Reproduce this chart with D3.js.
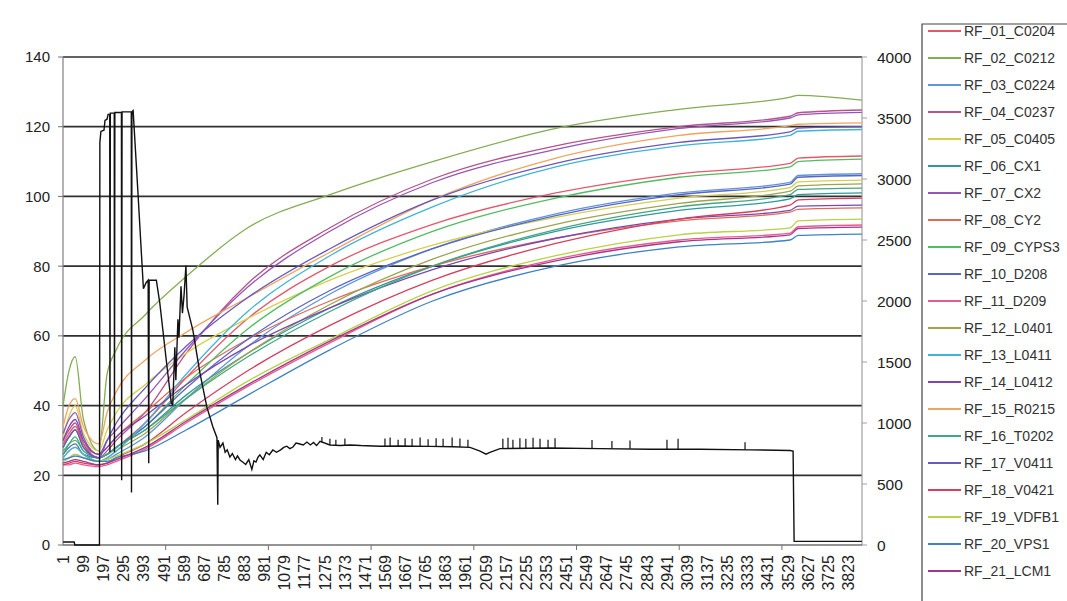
<!DOCTYPE html>
<html><head><meta charset="utf-8">
<script src="https://cdn.jsdelivr.net/npm/d3@7"></script>
<style>
html,body{margin:0;padding:0;background:#fff;}
svg{display:block;font-family:"Liberation Sans",Arial,sans-serif;}
</style></head>
<body>
<svg id="c" width="1067" height="601"></svg>
<script>
// ---------- data ----------
const N_POINTS = 3890;
const X_LABELS = [1,99,197,295,393,491,589,687,785,883,981,1079,1177,1275,1373,1471,1569,1667,1765,1863,1961,2059,2157,2255,2353,2451,2549,2647,2745,2843,2941,3039,3137,3235,3333,3431,3529,3627,3725,3823];
const X_TICKS = [500,1000,1500,2000,2500,3000,3500];
const Y_LEFT_TICKS = [0,20,40,60,80,100,120,140];
const Y_RIGHT_TICKS = [0,500,1000,1500,2000,2500,3000,3500,4000];

const SAMPLE_CATS = [1,30,60,100,175,215,260,400,600,900,1300,1800,2400,3000,3540,3580,3890];

const NAMES = ["RF_01_C0204","RF_02_C0212","RF_03_C0224","RF_04_C0237","RF_05_C0405","RF_06_CX1","RF_07_CX2","RF_08_CY2","RF_09_CYPS3","RF_10_D208","RF_11_D209","RF_12_L0401","RF_13_L0411","RF_14_L0412","RF_15_R0215","RF_16_T0202","RF_17_V0411","RF_18_V0421","RF_19_VDFB1","RF_20_VPS1","RF_21_LCM1"];
const COLORS = ["#e4586c","#84ad52","#5f95dc","#b8528a","#d6cf4e","#2f9a9c","#9656b8","#e06a58","#52bc62","#5a66c0","#ea5a8e","#9ea44e","#40b4d8","#7c48b0","#f0a460","#44a684","#6a58c0","#d6405e","#b6d444","#3f82c2","#a0388f"];

const RF_01 = [29,32,34,29,25,26,28,35,48,65,80,92,101,106.5,109.5,111,111.6];
const RF_02 = [40,50,54,36,27,49,56,66,77,91,100.5,110,119.5,125,128.5,129,127.6];
const RF_03 = [24,25,26,25,24,24.5,26,31,42,57,72,85,95,101,104,106,106.5];
const RF_04 = [30,33,35,29,25,27,30,38,55,75,91,105,114.5,120,123,124,124.8];
const RF_05 = [31,37,40,32,27,33,38,46,55,65,76,86,94,99.5,102.5,104.2,104.7];
const RF_06 = [28,31,33,28,25,26,28,33,43,55,68,80,90,96,99.3,100.5,101];
const RF_07 = [32,36,38,31,26,30,33,42,56,74,90,104,113.5,119.5,122.5,123.4,124.1];
const RF_08 = [29,31,33,29,26,28,31,38,48,59,70,80,88,93,95.5,96.3,96.7];
const RF_09 = [27,29,30,27,25,26,28,34,46,62,77,90,99.5,105.5,108.5,110,110.7];
const RF_10 = [26,28,29,26,25,26,28,34,45,59,73,85,94.5,100.5,103.5,105.5,106];
const RF_11 = [23,23,23.5,23,22.5,23,24,27.5,35,45.5,58,72,82,87.5,89.5,91.3,91.8];
const RF_12 = [25,27,28,26,24,25,27,32,42,55,69,82,92,98,101.5,103,103.6];
const RF_13 = [25,27,28,26,24,25,27,35,49,67,83,97,108.5,114.5,117.5,118.7,119.2];
const RF_14 = [30,34,36,30,26,28,31,37,46,57,68,79,88,93.5,96,97.2,97.5];
const RF_15 = [34,40,42,34,29,38,44,53,61,71,84,99,111,117.5,120.3,120.7,121.1];
const RF_16 = [26,29,31,27,25,26,28,33,42,54,67,80,90.5,97,100.5,102,102.4];
const RF_17 = [28,31,33,28,25,30,35,45,57,71,85,99,109.5,115.5,118.5,119.6,120];
const RF_18 = [23,23.5,24,23.5,23,23.5,25,29,38,50,63,76,86.5,93.5,97.5,99,99.5];
const RF_19 = [24,25,26,25,24,24.5,25.5,29,36,47,59,73,83,89,91,93,93.5];
const RF_20 = [24.5,25,25.5,25,24,24,25,27,33,43,56,70,80,85.5,87.5,88.8,89.2];
const RF_21 = [23.5,24,24.5,24,23,23.5,24.5,28,35.5,46,58.5,72,81.5,87,89,90.8,91.2];
const SERIES = [RF_01,RF_02,RF_03,RF_04,RF_05,RF_06,RF_07,RF_08,RF_09,RF_10,RF_11,RF_12,RF_13,RF_14,RF_15,RF_16,RF_17,RF_18,RF_19,RF_20,RF_21];

// black series on the secondary (right) axis
const BLACK_CAT = [1,55,58,178,180,185,200,205,215,220,228,229,231,250,251,253,285,286,288,333,334,336,342,365,392,405,415,418,420,455,472,505,528,535,545,550,560,565,575,582,590,599,605,633,667,701,730,750,754,756,765,779,790,800,813,825,840,850,862,875,890,905,920,930,940,950,959,975,990,1005,1022,1040,1060,1075,1090,1105,1120,1135,1150,1170,1188,1205,1220,1235,1252,1300,1350,1398,1450,1544,1641,1787,1900,1982,2031,2060,2079,2128,2371,2615,2858,3102,3345,3540,3555,3560,3890];
const BLACK_VAL = [25,25,0,0,3300,3390,3400,3480,3490,3530,3530,760,3540,3540,760,3545,3545,530,3550,3550,430,3550,3560,2900,2100,2150,2170,670,2170,2170,1980,1490,1160,1150,1620,1350,1850,1700,2120,1900,2050,2290,1950,1760,1410,1130,970,880,330,860,800,836,760,780,721,750,700,730,697,680,660,700,620,690,680,720,738,700,760,740,779,760,780,800,810,790,803,835,830,820,844,820,840,815,850,820,815,820,815,810,812,808,805,800,770,745,760,790,795,790,785,785,780,775,770,30,30];
const SPIKE_CAT = [1261,1300,1329,1373,1568,1593,1632,1666,1700,1739,1778,1817,1851,1895,1933,1972,2142,2167,2191,2225,2254,2289,2323,2362,2396,2576,2673,2761,2941,2995,3321];
const SPIKE_BASE = [840,820,818,817,810,810,812,811,810,810,808,808,807,806,804,802,792,792,793,793,794,794,795,795,795,792,790,788,786,786,782];
const SPIKE_TOP = [885,870,862,872,872,882,862,876,870,882,866,876,870,882,872,862,870,880,862,876,870,880,870,862,876,860,852,856,862,870,842];

// ---------- chart ----------
const svg = d3.select("#c");
const L = 63, R = 862, T = 57, B = 545;
const x = d3.scaleLinear().domain([0.5, N_POINTS + 0.5]).range([L, R]);
const yL = d3.scaleLinear().domain([0, 140]).range([B, T]);
const yR = d3.scaleLinear().domain([0, 4000]).range([B, T]);

// gridlines
svg.append("g").selectAll("line").data(Y_LEFT_TICKS.filter(d => d > 0)).join("line")
  .attr("x1", L).attr("x2", R).attr("y1", d => yL(d)).attr("y2", d => yL(d))
  .attr("stroke", "#303030").attr("stroke-width", 1.7);

// axes lines
svg.append("line").attr("x1", L).attr("x2", L).attr("y1", T).attr("y2", B).attr("stroke", "#808080").attr("stroke-width", 1.2);
svg.append("line").attr("x1", R).attr("x2", R).attr("y1", T).attr("y2", B).attr("stroke", "#a0a0a0").attr("stroke-width", 1.2);
svg.append("line").attr("x1", L).attr("x2", R).attr("y1", B).attr("y2", B).attr("stroke", "#707070").attr("stroke-width", 1.4);

// left axis ticks & labels
const gl = svg.append("g");
gl.selectAll("line").data(Y_LEFT_TICKS).join("line")
  .attr("x1", L - 5).attr("x2", L).attr("y1", d => yL(d)).attr("y2", d => yL(d))
  .attr("stroke", "#707070");
gl.selectAll("text").data(Y_LEFT_TICKS).join("text")
  .attr("x", 50).attr("y", d => yL(d)).attr("dy", "0.36em")
  .attr("text-anchor", "end").attr("font-size", 15).attr("fill", "#222").text(d => d);

// right axis ticks & labels
const gr = svg.append("g");
gr.selectAll("line").data(Y_RIGHT_TICKS).join("line")
  .attr("x1", R).attr("x2", R + 5).attr("y1", d => yR(d)).attr("y2", d => yR(d))
  .attr("stroke", "#a0a0a0");
gr.selectAll("text").data(Y_RIGHT_TICKS).join("text")
  .attr("x", 877).attr("y", d => yR(d)).attr("dy", "0.36em")
  .attr("text-anchor", "start").attr("font-size", 15.5).attr("fill", "#222").text(d => d);

// x ticks & labels
const gx = svg.append("g");
gx.selectAll("line").data(X_TICKS).join("line")
  .attr("x1", d => x(d + 0.5)).attr("x2", d => x(d + 0.5)).attr("y1", B).attr("y2", B + 5)
  .attr("stroke", "#707070");
gx.selectAll("text").data(X_LABELS).join("text")
  .attr("transform", d => `translate(${x(d)},555) rotate(-90)`)
  .attr("dy", "0.36em").attr("text-anchor", "end")
  .attr("font-size", 16).attr("fill", "#222").text(d => d);

// coloured series
const line = d3.line().x(d => x(d[0])).y(d => yL(d[1])).curve(d3.curveMonotoneX);
const gs = svg.append("g");
SERIES.forEach((vals, i) => {
  gs.append("path")
    .datum(SAMPLE_CATS.map((c, j) => [c, vals[j]]))
    .attr("d", line).attr("fill", "none")
    .attr("stroke", COLORS[i]).attr("stroke-width", 1.3);
});

// black series (right axis)
const bline = d3.line().x(d => x(d[0])).y(d => yR(d[1]));
svg.append("path")
  .datum(BLACK_CAT.map((c, j) => [c, BLACK_VAL[j]]))
  .attr("d", bline).attr("fill", "none").attr("stroke", "#111").attr("stroke-width", 1.4);
svg.append("g").selectAll("line").data(SPIKE_CAT).join("line")
  .attr("x1", d => x(d)).attr("x2", d => x(d))
  .attr("y1", (d, i) => yR(SPIKE_BASE[i])).attr("y2", (d, i) => yR(SPIKE_TOP[i]))
  .attr("stroke", "#111").attr("stroke-width", 1.2);

// legend
const lg = svg.append("g");
lg.append("path").attr("d", "M922,601 L922,24 L1067,24").attr("fill", "none").attr("stroke", "#444").attr("stroke-width", 1.2);
NAMES.forEach((n, i) => {
  const yy = 31 + i * 27;
  lg.append("line").attr("x1", 928).attr("x2", 961).attr("y1", yy).attr("y2", yy)
    .attr("stroke", COLORS[i]).attr("stroke-width", 1.8);
  lg.append("text").attr("x", 964).attr("y", yy).attr("dy", "0.36em")
    .attr("font-size", 14).attr("fill", "#333").text(n);
});
</script>
</body></html>
